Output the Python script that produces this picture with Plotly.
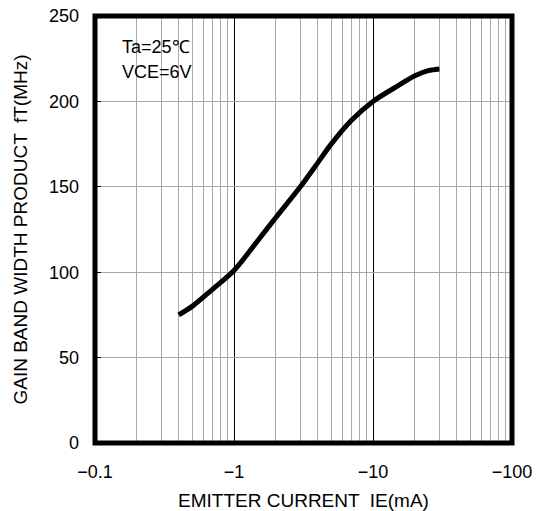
import plotly.graph_objects as go

# Data
ie_ma = [0.4, 0.5, 0.7, 1.0, 1.5, 2.0, 3.0, 4.0, 5.0, 7.0, 10.0, 15.0, 20.0, 25.0, 30.0]
ft_mhz = [75, 80, 90, 101, 119, 132, 150, 164, 175, 189, 200, 209, 215, 218, 219]

x_tickvals = [0.1, 1, 10, 100]
x_ticktext = ["\u22120.1", "\u22121", "\u221210", "\u2212100"]
x_minor = [m * d for d in (0.1, 1, 10) for m in range(2, 10)]
y_tickvals = [0, 50, 100, 150, 200, 250]

FONT = "Liberation Sans, Arial, sans-serif"
FS = 18
FT = 19

fig = go.Figure()
fig.add_trace(go.Scatter(
    x=ie_ma, y=ft_mhz, mode="lines",
    line=dict(color="black", width=5, shape="spline", smoothing=0.8),
    showlegend=False, hoverinfo="skip",
))

fig.update_xaxes(
    type="log", range=[-1, 2], automargin=False,
    tickmode="array", tickvals=x_tickvals, ticktext=x_ticktext,
    showgrid=True, gridcolor="black", gridwidth=1,
    minor=dict(tickvals=x_minor, showgrid=True, gridcolor="#a8a8a8", gridwidth=1, ticks=""),
    showline=False, ticks="", zeroline=False,
    ticklabelstandoff=16,
    tickfont=dict(family=FONT, size=FS, color="black"),
    title=dict(text="EMITTER CURRENT \u00a0IE(mA)", font=dict(family=FONT, size=FT, color="black"), standoff=13),
)
fig.update_yaxes(
    range=[0, 250], tickmode="array", tickvals=y_tickvals, automargin=False,
    showgrid=True, gridcolor="#a8a8a8", gridwidth=1,
    showline=False,
    ticks="inside", ticklen=6, tickcolor="black", tickwidth=1,
    zeroline=False, ticklabelstandoff=15,
    tickfont=dict(family=FONT, size=FS, color="black"),
    title=dict(text="GAIN BAND WIDTH PRODUCT \u00a0fT(MHz)", font=dict(family=FONT, size=FT, color="black"), standoff=16),
)

fig.add_shape(type="rect", xref="paper", yref="paper",
              x0=0.013, x1=0.322, y0=0.827, y1=0.961,
              fillcolor="white", line=dict(width=0), layer="between")
# plot frame
fig.add_shape(type="rect", xref="paper", yref="paper",
              x0=0, x1=1, y0=0, y1=1,
              line=dict(color="black", width=5), layer="above")

fig.add_annotation(text="Ta=25\u2103", xref="paper", yref="paper", x=0.060, y=0.928,
                   xanchor="left", yanchor="middle", showarrow=False,
                   font=dict(family=FONT, size=FS, color="black"))
fig.add_annotation(text="VCE=6V", xref="paper", yref="paper", x=0.060, y=0.869,
                   xanchor="left", yanchor="middle", showarrow=False,
                   font=dict(family=FONT, size=FS, color="black"))

fig.update_layout(
    width=544, height=511,
    margin=dict(l=95, r=32, t=16, b=68),
    paper_bgcolor="white", plot_bgcolor="white",
    font=dict(family=FONT, size=FS, color="black"),
)

fig.write_html("out.html")
